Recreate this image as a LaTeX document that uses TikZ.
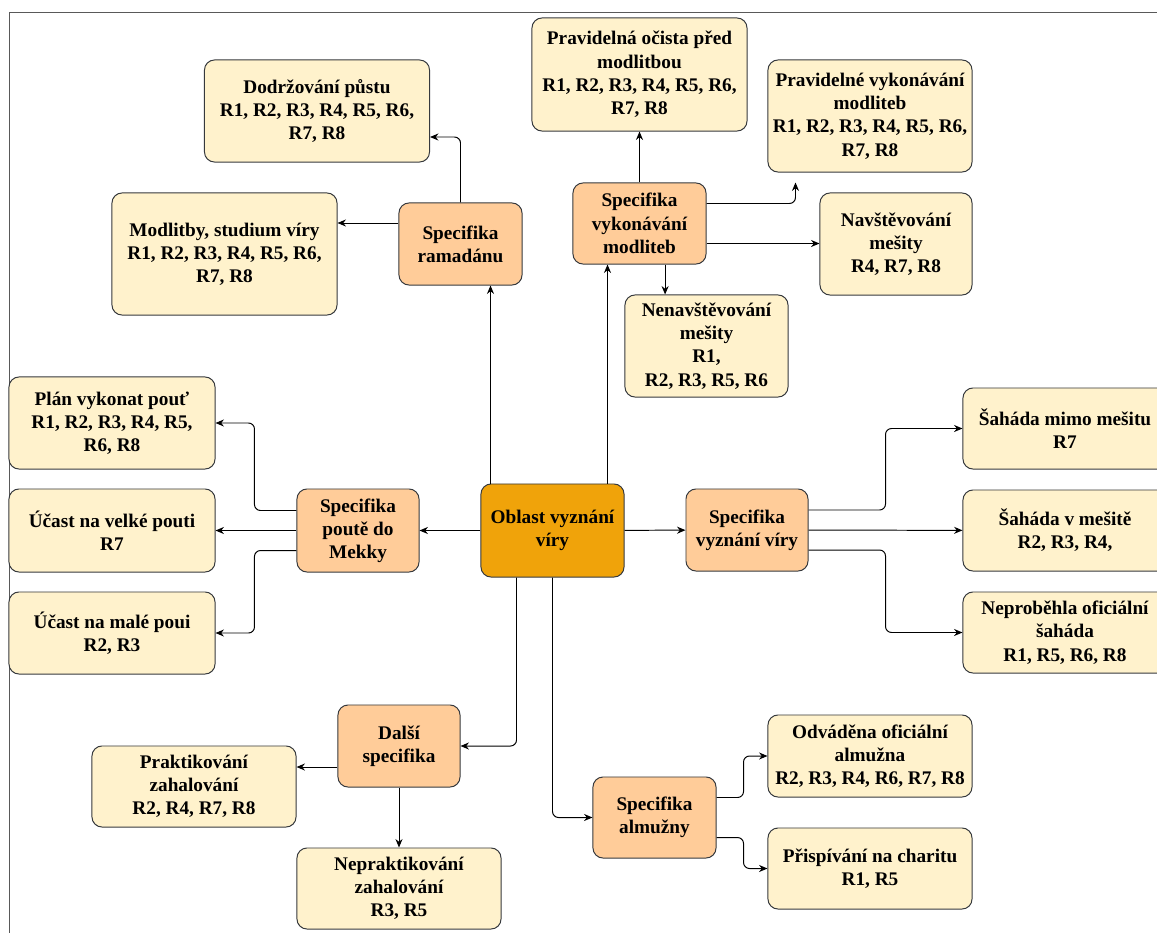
\documentclass[tikz,border=0pt]{standalone}
\usepackage{fontspec}
\setmainfont{Liberation Serif}
\usetikzlibrary{arrows.meta}
\definecolor{krem}{HTML}{FFF2CC}
\definecolor{broskev}{HTML}{FFCC99}
\definecolor{oranz}{HTML}{F0A30A}
\definecolor{okraj}{HTML}{36393D}
\tikzset{
  box/.style={draw=okraj, line width=0.7pt, rounded corners=0.25cm, align=center,
    inner sep=0pt, font=\fontsize{13.7}{16.5}\selectfont\bfseries},
  leaf/.style={box, fill=krem},
  spec/.style={box, fill=broskev},
  hlavni/.style={box, fill=oranz},
  arr/.style={-{Stealth[length=6pt,width=5pt]}, line width=0.7pt, rounded corners=0.15cm},
}
\begin{document}
\begin{tikzpicture}[x=0.025cm, y=-0.025cm]
		\useasboundingbox (0,0) rectangle (1157,933);
		\draw [gray!70!black, line width=0.7pt] (9,940) -- (9,12) -- (1170,12);

		%Stred
		\node [hlavni, minimum width=3.575cm, minimum height=2.325cm] (oblast) at (552.5,530.5) {Oblast vyznání\\víry};

		%Ramadan
		\node [spec, minimum width=3.075cm, minimum height=2.05cm] (ramad) at (460.5,244) {Specifika\\ramadánu};
		\node [leaf, minimum width=5.625cm, minimum height=2.55cm] (dodrz) at (317,111) {Dodržování půstu\\R1, R2, R3, R4, R5, R6,\\R7, R8};
		\node [leaf, minimum width=5.625cm, minimum height=3.05cm] (modlit) at (224.5,254) {Modlitby, studium víry\\R1, R2, R3, R4, R5, R6,\\R7, R8};

		%Modlitby
		\node [spec, minimum width=3.325cm, minimum height=2.025cm] (vykon) at (639.5,223.5) {Specifika\\vykonávání\\modliteb};
		\node [leaf, minimum width=5.375cm, minimum height=2.825cm] (ocista) at (639.5,74.5) {Pravidelná očista před\\modlitbou\\R1, R2, R3, R4, R5, R6,\\R7, R8};
		\node [leaf, minimum width=5.1cm, minimum height=2.8cm] (pravvyk) at (870,116) {Pravidelné vykonávání\\modliteb\\R1, R2, R3, R4, R5, R6,\\R7, R8};
		\node [leaf, minimum width=3.8cm, minimum height=2.55cm] (navst) at (896,244) {Navštěvování\\mešity\\R4, R7, R8};
		\node [leaf, minimum width=4.075cm, minimum height=2.55cm] (nenavst) at (706.5,346) {Nenavštěvování\\mešity\\R1,\\R2, R3, R5, R6};

		%Pout
		\node [spec, minimum width=3.05cm, minimum height=2.075cm] (pout) at (358,530.5) {Specifika\\poutě do\\Mekky};
		\node [leaf, minimum width=5.15cm, minimum height=2.3cm] (plan) at (112,423) {Plán vykonat pouť\\R1, R2, R3, R4, R5,\\R6, R8};
		\node [leaf, minimum width=5.15cm, minimum height=2.075cm] (velke) at (112,530.5) {Účast na velké pouti\\R7};
		\node [leaf, minimum width=5.15cm, minimum height=2.05cm] (male) at (112,633) {Účast na malé poui\\R2, R3};

		%Sahada
		\node [spec, minimum width=3.05cm, minimum height=2.05cm] (vyzn) at (747,530) {Specifika\\vyznání víry};
		\node [leaf, minimum width=5.1cm, minimum height=2.025cm] (mimo) at (1065,428.5) {Šaháda mimo mešitu\\R7};
		\node [leaf, minimum width=5.1cm, minimum height=2.025cm] (vmesite) at (1065,530.5) {Šaháda v mešitě\\R2, R3, R4,};
		\node [leaf, minimum width=5.1cm, minimum height=2.025cm] (neprob) at (1065,632.5) {Neproběhla oficiální\\šaháda\\R1, R5, R6, R8};

		%Dalsi
		\node [spec, minimum width=3.05cm, minimum height=2.05cm] (dalsi) at (399,746) {Další\\specifika};
		\node [leaf, minimum width=5.1cm, minimum height=2.025cm] (prakt) at (194,786.5) {Praktikování\\zahalování\\R2, R4, R7, R8};
		\node [leaf, minimum width=5.1cm, minimum height=2.025cm] (neprakt) at (399,888.5) {Nepraktikování\\zahalování\\R3, R5};

		%Almuzna
		\node [spec, minimum width=3.075cm, minimum height=2.025cm] (almuz) at (654.5,817.5) {Specifika\\almužny};
		\node [leaf, minimum width=5.1cm, minimum height=2.05cm] (odvad) at (870,756) {Odváděna oficiální\\almužna\\R2, R3, R4, R6, R7, R8};
		\node [leaf, minimum width=5.1cm, minimum height=2.025cm] (prisp) at (870,868.5) {Přispívání na charitu\\R1, R5};

		%Spojnice
		\draw [arr] (oblast) -- (pout);
		\draw [arr] (oblast) -- (vyzn);
		\draw [arr] ([xshift=0.25cm]oblast.north west) -- ([xshift=0.25cm]oblast.north west |- ramad.south);
		\draw [arr] ([xshift=-0.425cm]oblast.north east) -- ([xshift=-0.425cm]oblast.north east |- vykon.south);
		\draw [arr] ([xshift=0.9cm]oblast.south west) |- (dalsi.east);
		\draw [arr] (oblast.south) |- (almuz.west);

		\draw [arr] (ramad.north) |- ([yshift=-0.65cm]dodrz.east);
		\draw [arr] ([yshift=0.525cm]ramad.west) -- ([yshift=0.525cm]ramad.west -| modlit.east);

		\draw [arr] (vykon) -- (ocista);
		\draw [arr] ([yshift=0.5cm]vykon.east) -| ([xshift=0.7cm,yshift=-0.25cm]pravvyk.south west);
		\draw [arr] ([yshift=-0.5cm]vykon.east) -- ([yshift=-0.5cm]vykon.east -| navst.west);
		\draw [arr] ([xshift=0.64cm]vykon.south) -- ([xshift=0.64cm]vykon.south |- nenavst.north);

		\draw [arr] ([yshift=0.5cm]pout.west) -- ++(-1.05cm,0) |- (plan.east);
		\draw [arr] (pout) -- (velke);
		\draw [arr] ([yshift=-0.5cm]pout.west) -- ++(-1.05cm,0) |- (male.east);

		\draw [arr] ([yshift=0.5cm]vyzn.east) -- ++(1.925cm,0) |- (mimo.west);
		\draw [arr] (vyzn) -- (vmesite);
		\draw [arr] ([yshift=-0.5cm]vyzn.east) -- ++(1.925cm,0) |- (neprob.west);

		\draw [arr] ([yshift=-0.525cm]dalsi.west) -- ([yshift=-0.525cm]dalsi.west -| prakt.east);
		\draw [arr] (dalsi) -- (neprakt);

		\draw [arr] ([yshift=0.5cm]almuz.east) -- ++(0.675cm,0) |- (odvad.west);
		\draw [arr] ([yshift=-0.5cm]almuz.east) -- ++(0.675cm,0) |- (prisp.west);
	\end{tikzpicture}
\end{document}
